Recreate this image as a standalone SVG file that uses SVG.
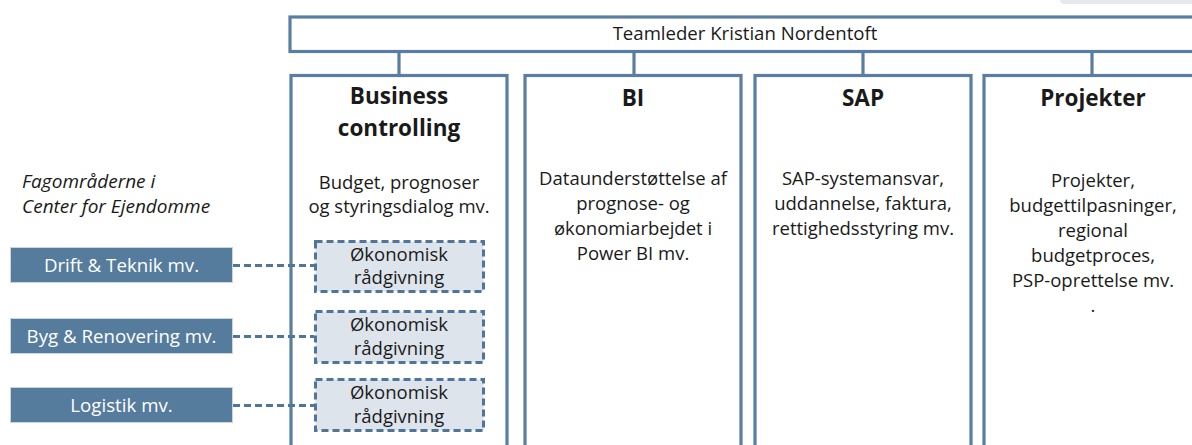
<svg xmlns="http://www.w3.org/2000/svg" width="1192" height="445" viewBox="0 0 1192 445">
<style>
.box{fill:#ffffff;stroke:#5a7ea1;stroke-width:3.2}
.conn{fill:none;stroke:#5a7ea1;stroke-width:3.2}
.dash{fill:none;stroke:#4f7599;stroke-width:3;stroke-dasharray:7 4}
.dbox{fill:#dde4ec;stroke:#4f7599;stroke-width:3;stroke-dasharray:7 4}
.side{fill:#557b9d;stroke:#c9d5e1;stroke-width:1}
.t{font-family:"Open Sans","Liberation Sans",sans-serif;fill:#1a1a1a;text-anchor:middle}
.body{font-size:18.5px}
.head{font-size:22.5px;font-weight:bold}
.top{font-size:18.6px}
.w{font-family:"Open Sans","Liberation Sans",sans-serif;fill:#ffffff;text-anchor:middle;font-size:18.7px}
.it{font-family:"Open Sans","Liberation Sans",sans-serif;fill:#1a1a1a;font-size:19px;font-style:italic}
</style>
<rect x="1060" y="-4" width="140" height="8" rx="4" fill="#e6eaee"/>
<g id="teamleder">
<rect class="box" x="290" y="17" width="920" height="34.5"/>
<text class="t top" x="745" y="40">Teamleder Kristian Nordentoft</text>
</g>
<g id="business-controlling">
<rect class="box" x="291" y="75.5" width="216" height="390"/>
<text class="t head" x="399" y="104">Business</text>
<text class="t head" x="399" y="136">controlling</text>
<text class="t body" x="399" y="189">Budget, prognoser</text>
<text class="t body" x="399" y="213">og styringsdialog mv.</text>
</g>
<g id="bi">
<rect class="box" x="525" y="75.5" width="216" height="390"/>
<text class="t head" x="633" y="106">BI</text>
<text class="t body" x="633" y="185">Dataunderstøttelse af</text>
<text class="t body" x="633" y="210">prognose- og</text>
<text class="t body" x="633" y="235">økonomiarbejdet i</text>
<text class="t body" x="633" y="260">Power BI mv.</text>
</g>
<g id="sap">
<rect class="box" x="755" y="75.5" width="216" height="390"/>
<text class="t head" x="863" y="106">SAP</text>
<text class="t body" x="863" y="185">SAP-systemansvar,</text>
<text class="t body" x="863" y="210">uddannelse, faktura,</text>
<text class="t body" x="863" y="235">rettighedsstyring mv.</text>
</g>
<g id="projekter">
<rect class="box" x="984" y="75.5" width="230" height="390"/>
<text class="t head" x="1093" y="106">Projekter</text>
<text class="t body" x="1093" y="187">Projekter,</text>
<text class="t body" x="1093" y="212">budgettilpasninger,</text>
<text class="t body" x="1093" y="237">regional</text>
<text class="t body" x="1093" y="262">budgetproces,</text>
<text class="t body" x="1093" y="287">PSP-oprettelse mv.</text>
<text class="t body" x="1093" y="312">.</text>
</g>
<g id="connectors">
<line class="conn" x1="399" y1="51" x2="399" y2="75"/>
<line class="conn" x1="634" y1="51" x2="634" y2="75"/>
<line class="conn" x1="863" y1="51" x2="863" y2="75"/>
<line class="conn" x1="1092" y1="51" x2="1092" y2="75"/>
<line class="dash" x1="233" y1="265.5" x2="314" y2="265.5"/>
<line class="dash" x1="233" y1="336.5" x2="314" y2="336.5"/>
<line class="dash" x1="233" y1="405.5" x2="314" y2="405.5"/>
</g>
<g id="okonomisk-1">
<rect class="dbox" x="315.5" y="241.5" width="168" height="50"/>
<text class="t body" x="399" y="261">Økonomisk</text>
<text class="t body" x="399" y="284">rådgivning</text>
</g>
<g id="okonomisk-2">
<rect class="dbox" x="315.5" y="311.5" width="168" height="51"/>
<text class="t body" x="399" y="331">Økonomisk</text>
<text class="t body" x="399" y="355">rådgivning</text>
</g>
<g id="okonomisk-3">
<rect class="dbox" x="315.5" y="379.5" width="168" height="51"/>
<text class="t body" x="399" y="399">Økonomisk</text>
<text class="t body" x="399" y="423">rådgivning</text>
</g>
<g id="fagomraader">
<text class="it" x="22" y="188">Fagområderne i</text>
<text class="it" x="22" y="213">Center for Ejendomme</text>
</g>
<g id="drift">
<rect class="side" x="10.5" y="247.5" width="222" height="35"/>
<text class="w" x="121.5" y="271.5">Drift &amp; Teknik mv.</text>
</g>
<g id="byg">
<rect class="side" x="10.5" y="318.5" width="222" height="35"/>
<text class="w" x="121.5" y="342.5">Byg &amp; Renovering mv.</text>
</g>
<g id="logistik">
<rect class="side" x="10.5" y="387.5" width="222" height="35"/>
<text class="w" x="121.5" y="411.5">Logistik mv.</text>
</g>
</svg>
